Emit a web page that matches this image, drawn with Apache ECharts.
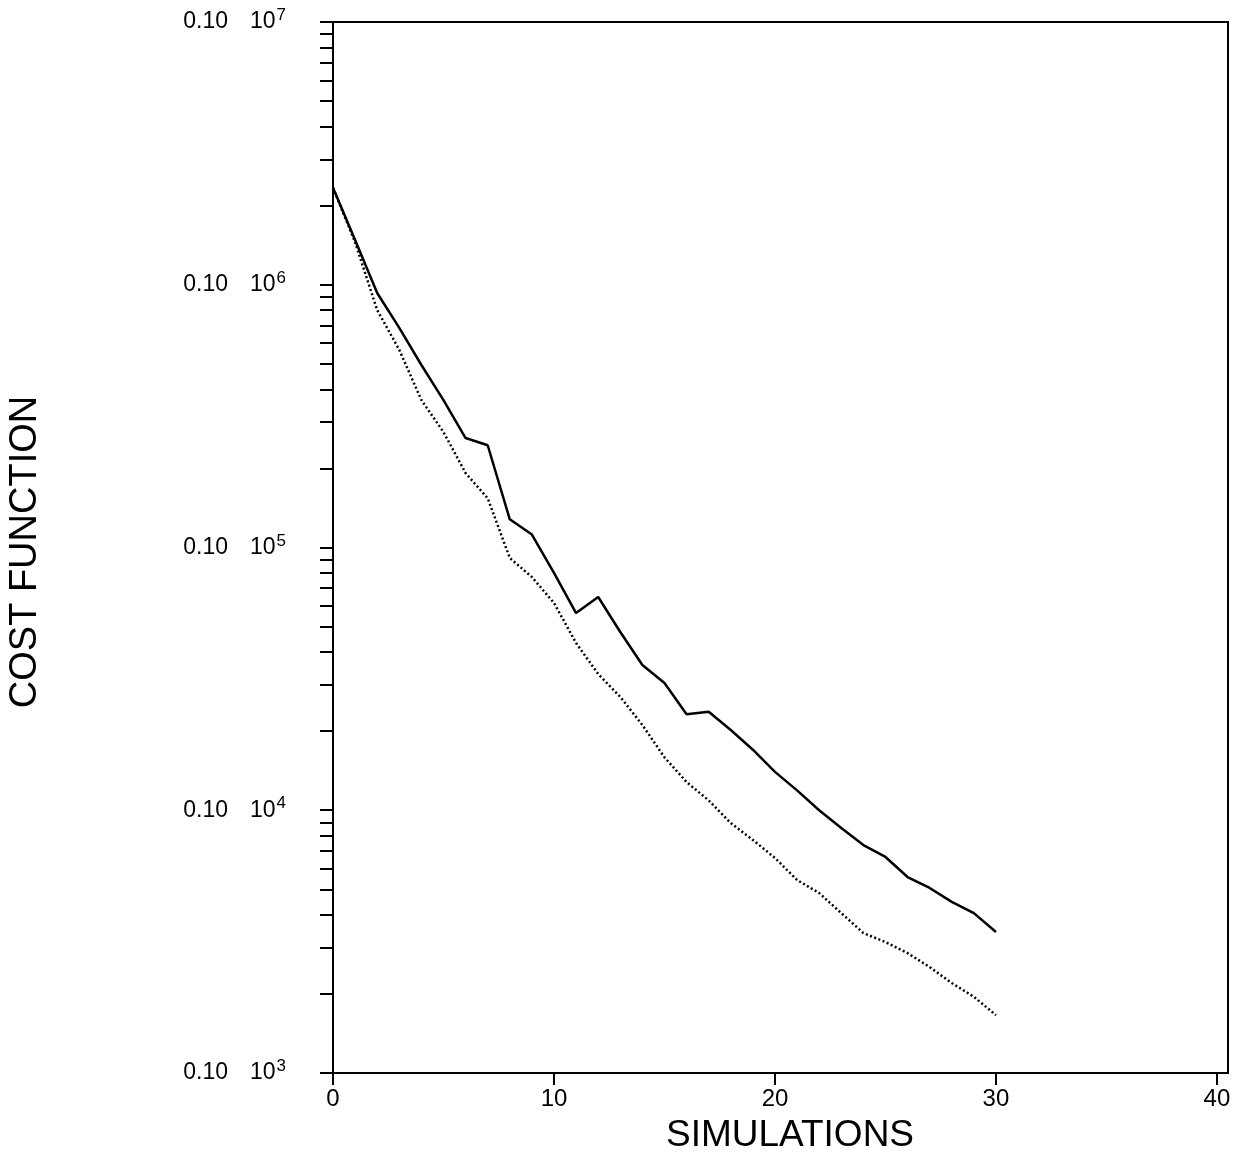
<!DOCTYPE html>
<html>
<head>
<meta charset="utf-8">
<title>Cost function vs simulations</title>
<script src="https://cdn.jsdelivr.net/npm/echarts@6/dist/echarts.min.js"></script>
<style>
  html, body { margin: 0; padding: 0; background: #fff; }
  #chart { width: 1241px; height: 1158px; }
</style>
</head>
<body>
<div id="chart"></div>
<script>
// simulation index 0..30
const simulations = [0, 1, 2, 3, 4, 5, 6, 7, 8, 9, 10, 11, 12, 13, 14, 15,
  16, 17, 18, 19, 20, 21, 22, 23, 24, 25, 26, 27, 28, 29, 30];

// solid curve
const costSolid = [2.34e6, 1.48e6, 9.3e5, 6.85e5, 4.95e5, 3.64e5, 2.61e5, 2.45e5,
  1.28e5, 1.12e5, 8.0e4, 5.63e4, 6.48e4, 4.77e4, 3.57e4, 3.05e4, 2.32e4, 2.37e4,
  2.02e4, 1.70e4, 1.40e4, 1.19e4, 1.00e4, 8.56e3, 7.37e3, 6.64e3, 5.57e3, 5.06e3,
  4.48e3, 4.06e3, 3.44e3];

// dotted curve
const costDotted = [2.34e6, 1.45e6, 8.01e5, 5.65e5, 3.64e5, 2.75e5, 1.92e5, 1.54e5,
  9.12e4, 7.72e4, 6.15e4, 4.33e4, 3.30e4, 2.70e4, 2.11e4, 1.59e4, 1.28e4, 1.09e4,
  8.94e3, 7.71e3, 6.58e3, 5.43e3, 4.84e3, 4.06e3, 3.41e3, 3.15e3, 2.86e3, 2.53e3,
  2.20e3, 1.95e3, 1.66e3];

// axis ticks
const xTicks = [0, 10, 20, 30, 40];
const yDecades = [1e3, 1e4, 1e5, 1e6, 1e7];
const yMinorSteps = [2, 3, 4, 5, 6, 7, 8, 9];

const yTicks = [];
yDecades.forEach((d, i) => {
  yTicks.push(d);
  if (i < yDecades.length - 1) {
    yMinorSteps.forEach(m => yTicks.push(m * d));
  }
});

const FONT = '"Liberation Sans", "DejaVu Sans", sans-serif';

const chart = echarts.init(document.getElementById('chart'), null, { renderer: 'canvas' });

const option = {
  backgroundColor: '#fff',
  animation: false,
  grid: {
    left: 333,
    right: 13,
    top: 22,
    bottom: 85,
    show: true,
    borderColor: '#000',
    borderWidth: 2
  },
  xAxis: {
    type: 'value',
    min: 0,
    max: 40.5,
    axisLine: { show: true, onZero: false, lineStyle: { color: '#000', width: 2 } },
    axisTick: { show: true, length: 12, customValues: xTicks, lineStyle: { color: '#000', width: 2 } },
    axisLabel: {
      customValues: xTicks,
      margin: 14,
      color: '#000',
      fontFamily: FONT,
      fontSize: 24
    },
    splitLine: { show: false }
  },
  yAxis: {
    type: 'log',
    logBase: 10,
    min: 1e3,
    max: 1e7,
    axisLine: { show: true, lineStyle: { color: '#000', width: 2 } },
    axisTick: { show: true, length: 13, customValues: yTicks, lineStyle: { color: '#000', width: 2 } },
    axisLabel: {
      customValues: yDecades,
      margin: 47,
      color: '#000',
      formatter: v => '{a|0.10}{b|10}{s|' + Math.round(Math.log10(v)) + '}',
      rich: {
        a: { fontFamily: FONT, fontSize: 23, color: '#000', lineHeight: 26, padding: [0, 22, 0, 0] },
        b: { fontFamily: FONT, fontSize: 23, color: '#000', lineHeight: 26 },
        s: { fontFamily: FONT, fontSize: 17, color: '#000', lineHeight: 26, padding: [0, 0, 13, 1] }
      }
    },
    splitLine: { show: false },
    minorTick: { show: false }
  },
  graphic: [
    {
      type: 'text',
      x: 26,
      y: 552,
      rotation: Math.PI / 2,
      style: {
        text: 'COST FUNCTION',
        fontFamily: FONT,
        fontSize: 38,
        fill: '#000',
        align: 'center',
        verticalAlign: 'middle'
      }
    },
    {
      type: 'text',
      x: 790,
      y: 1136,
      style: {
        text: 'SIMULATIONS',
        fontFamily: FONT,
        fontSize: 37,
        fill: '#000',
        align: 'center',
        verticalAlign: 'middle'
      }
    }
  ],
  series: [
    {
      name: 'solid',
      type: 'line',
      data: simulations.map((s, i) => [s, costSolid[i]]),
      showSymbol: false,
      lineStyle: { color: '#000', width: 2.5, type: 'solid' }
    },
    {
      name: 'dotted',
      type: 'line',
      data: simulations.map((s, i) => [s, costDotted[i]]),
      showSymbol: false,
      lineStyle: { color: '#000', width: 2.5, type: [2, 2.5] }
    }
  ]
};

chart.setOption(option);
</script>
</body>
</html>
